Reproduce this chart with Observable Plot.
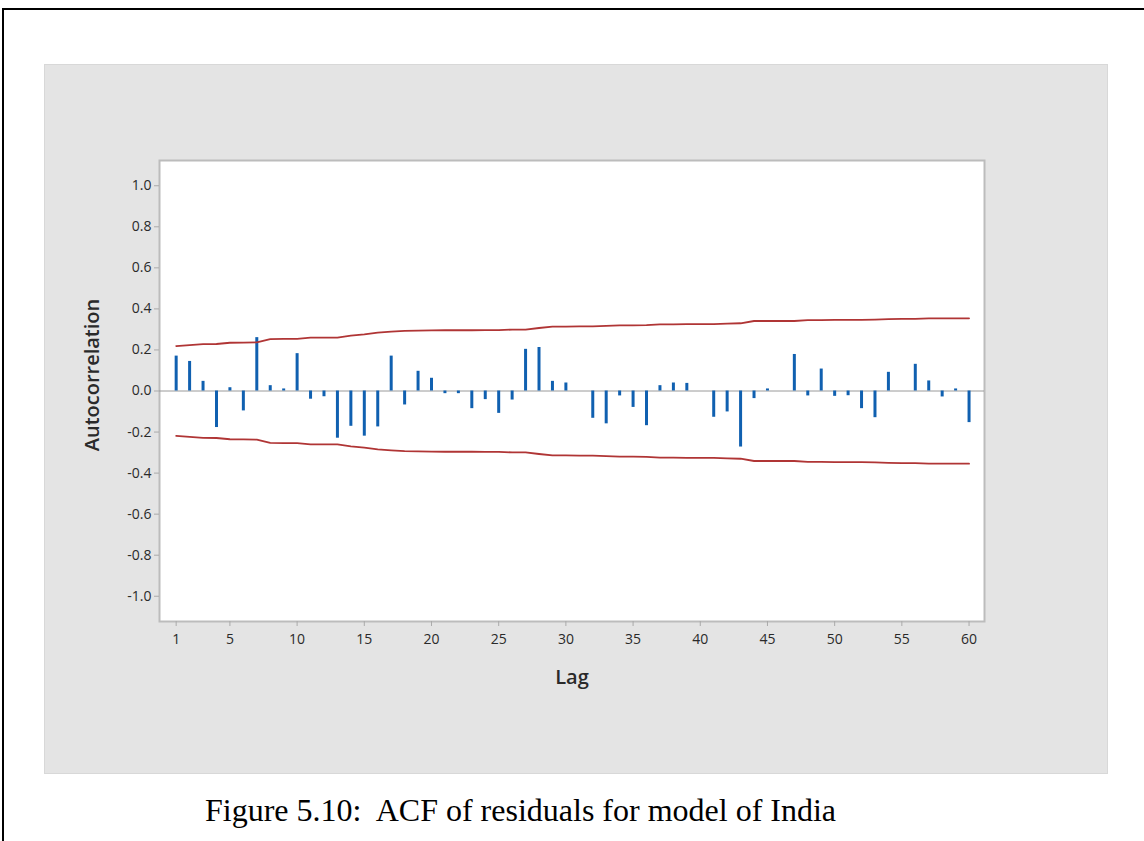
<!DOCTYPE html>
<html>
<head>
<meta charset="utf-8">
<script src="https://cdn.jsdelivr.net/npm/d3@7"></script>
<script src="https://cdn.jsdelivr.net/npm/@observablehq/plot@0.6"></script>
<style>
  html, body { margin: 0; padding: 0; background: #fff; width: 1144px; height: 841px; overflow: hidden; }
  #border { position: absolute; left: 2px; top: 8px; width: 1200px; height: 900px; border-top: 2px solid #000; border-left: 2px solid #000; }
  #panel { position: absolute; left: 45px; top: 65px; width: 1062px; height: 708px; background: #e4e4e4; box-shadow: 0 0 0 1px #d8d8d8; }
  #caption { position: absolute; left: 205px; top: 792px; font-family: "Liberation Serif", "Times New Roman", serif; font-size: 32px; line-height: 37px; color: #000; white-space: pre; }
</style>
</head>
<body>
<div id="border"></div>
<div id="panel"></div>
<div id="caption">Figure 5.10:  ACF of residuals for model of India</div>
<script>
// Lags 1..60
const lags = d3.range(1, 61);
// Autocorrelation values
const acf = [
  0.170, 0.144, 0.047, -0.178, 0.016, -0.097, 0.260, 0.026, 0.010, 0.182,
  -0.040, -0.028, -0.230, -0.172, -0.220, -0.175, 0.170, -0.068, 0.096, 0.062,
  -0.013, -0.013, -0.086, -0.042, -0.109, -0.044, 0.203, 0.212, 0.047, 0.039,
  0.000, -0.133, -0.160, -0.024, -0.080, -0.169, 0.026, 0.039, 0.037, 0.000,
  -0.128, -0.102, -0.273, -0.037, 0.010, 0.000, 0.178, -0.024, 0.107, -0.026,
  -0.023, -0.086, -0.130, 0.091, 0.000, 0.130, 0.049, -0.029, 0.010, -0.154
];
// Upper significance limit (lower is its mirror)
const limit = [
  0.219, 0.224, 0.228, 0.229, 0.235, 0.236, 0.237, 0.253, 0.254, 0.254,
  0.260, 0.260, 0.260, 0.270, 0.276, 0.284, 0.289, 0.293, 0.294, 0.295,
  0.296, 0.296, 0.296, 0.297, 0.297, 0.299, 0.299, 0.307, 0.314, 0.314,
  0.315, 0.315, 0.317, 0.320, 0.320, 0.321, 0.325, 0.325, 0.326, 0.326,
  0.326, 0.328, 0.330, 0.341, 0.341, 0.341, 0.341, 0.345, 0.345, 0.347,
  0.347, 0.347, 0.348, 0.350, 0.351, 0.351, 0.354, 0.354, 0.354, 0.354
];
const xTicks = [1, 5, 10, 15, 20, 25, 30, 35, 40, 45, 50, 55, 60];
const yTicks = [-1.0, -0.8, -0.6, -0.4, -0.2, 0.0, 0.2, 0.4, 0.6, 0.8, 1.0];

const data = lags.map((lag, i) => ({lag, acf: acf[i], upper: limit[i], lower: -limit[i]}));

const chart = Plot.plot({
  width: 1062,
  height: 708,
  marginLeft: 114,
  marginTop: 95,
  marginRight: 123,
  marginBottom: 152,
  style: {background: "transparent", fontFamily: "'Open Sans', 'Noto Sans', sans-serif", fontSize: "14px", color: "#2a2a2a"},
  x: {domain: [-0.24, 61.15], label: null},
  y: {domain: [-1.123, 1.123], label: null},
  marks: [
    Plot.frame({fill: "white", stroke: "#bcbcbc", strokeWidth: 2}),
    Plot.axisX({ticks: xTicks, tickFormat: d => String(d), tickSize: 5, tickPadding: 8, stroke: "#aaa", color: "#2a2a2a", fontSize: 14, label: null}),
    Plot.axisY({ticks: yTicks, tickFormat: d => d.toFixed(1), tickSize: 5, tickPadding: 3, stroke: "#aaa", color: "#2a2a2a", fontSize: 14, label: null}),
    Plot.ruleY([0], {stroke: "#9a9a9a", strokeWidth: 1}),
    Plot.ruleX(data, {x: "lag", y1: 0, y2: "acf", stroke: "#1060b0", strokeWidth: 3}),
    Plot.line(data, {x: "lag", y: "upper", stroke: "#b03535", strokeWidth: 1.8}),
    Plot.line(data, {x: "lag", y: "lower", stroke: "#b03535", strokeWidth: 1.8}),
    Plot.text(["Autocorrelation"], {frameAnchor: "left", textAnchor: "middle", dx: -67, dy: -16, rotate: -90, fontSize: 20, fontWeight: 600, fill: "#2a2a2a", text: d => d}),
    Plot.text(["Lag"], {frameAnchor: "bottom", textAnchor: "middle", dy: 62, fontSize: 20, fontWeight: 600, fill: "#2a2a2a", text: d => d})
  ]
});
chart.style.position = "absolute";
chart.style.left = "45px";
chart.style.top = "65px";
document.body.appendChild(chart);
</script>
</body>
</html>
